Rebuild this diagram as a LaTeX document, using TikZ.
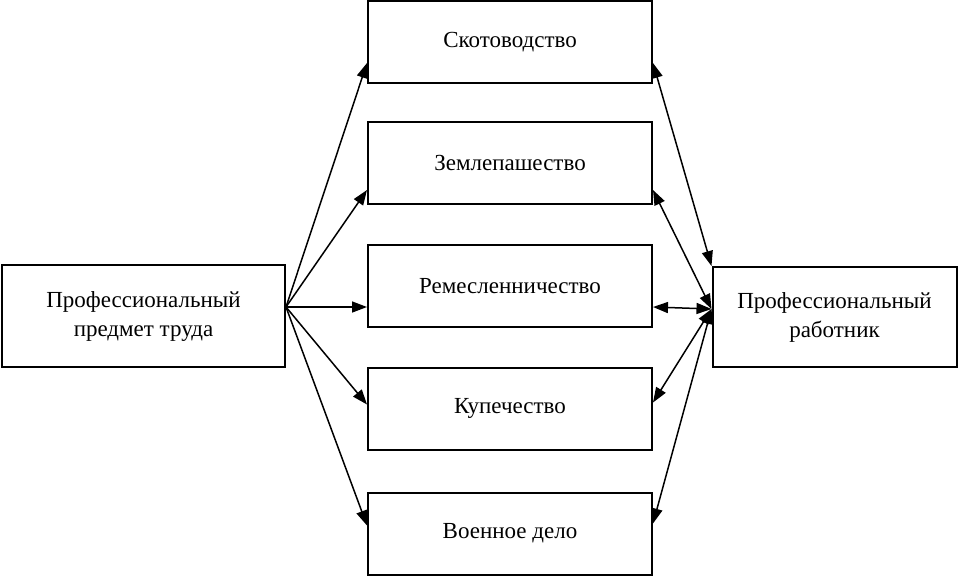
\documentclass[tikz,border=0pt]{standalone}
\usepackage{fontspec}
\setmainfont{Liberation Serif}
\usetikzlibrary{arrows.meta}
\begin{document}
\begin{tikzpicture}[x=1pt,y=-1pt,
  box/.style={draw,line width=2pt,inner sep=0pt,align=center,font=\fontsize{23}{29}\selectfont},
  mid/.style={box,minimum width=284pt,minimum height=82pt},
  link/.style={line width=1.5pt,-{Triangle[length=15pt,width=11pt]}},
  dlink/.style={line width=1.5pt,{Triangle[length=15pt,width=11pt]}-{Triangle[length=15pt,width=11pt]}}]
\useasboundingbox (0,0) rectangle (958,576);
\node[box,minimum width=283pt,minimum height=102pt] (l) at (143.5,316) {Профессиональный\\предмет труда};
\node[box,minimum width=244pt,minimum height=100pt] (r) at (834.5,317) {Профессиональный\\работник};
\node[mid] (m1) at (510,42) {Скотоводство};
\node[mid] (m2) at (510,163) {Землепашество};
\node[mid] (m3) at (510,286) {Ремесленничество};
\node[mid] (m4) at (510,408.5) {Купечество};
\node[mid] (m5) at (510,533.5) {Военное дело};
\coordinate (ls) at ([yshift=9pt]l.east);
\coordinate (rs) at ([yshift=8pt]r.west);
\draw[link] (ls) -- ([yshift=-21pt]m1.west);
\draw[link] (ls) -- ([yshift=-27pt]m2.west);
\draw[link] (ls) -- ([yshift=-21pt]m3.west);
\draw[link] (ls) -- ([yshift=4pt]m4.west);
\draw[link] (ls) -- ([yshift=8pt]m5.west);
\draw[dlink] ([yshift=-21pt]m1.east) -- (r.north west);
\draw[dlink] ([yshift=-27pt]m2.east) -- (rs);
\draw[dlink] ([yshift=-21pt]m3.east) -- (rs);
\draw[dlink] ([yshift=6pt]m4.east) -- (rs);
\draw[dlink] ([yshift=10pt]m5.east) -- (rs);
\end{tikzpicture}
\end{document}
